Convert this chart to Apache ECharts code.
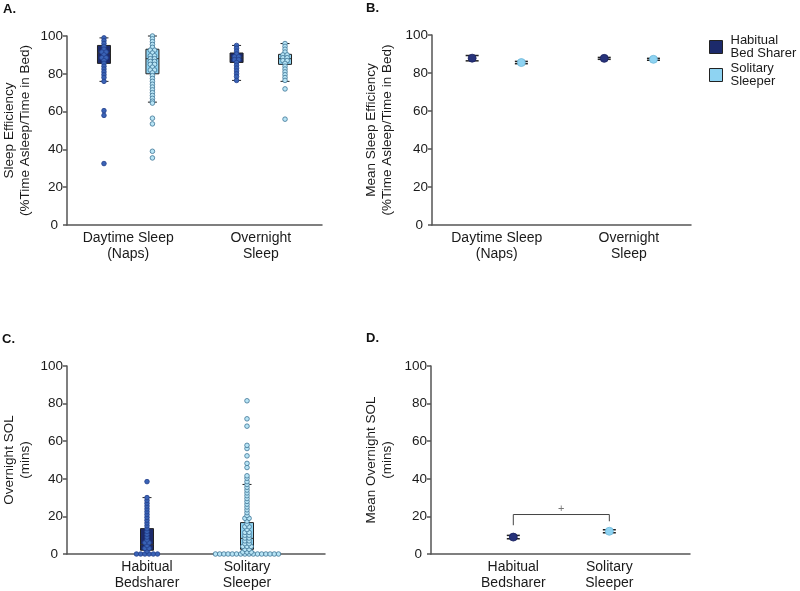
<!DOCTYPE html>
<html><head><meta charset="utf-8">
<script src="https://cdn.jsdelivr.net/npm/echarts@6/dist/echarts.min.js"></script>
<style>html,body{margin:0;padding:0;background:#fff}#c{width:800px;height:591px}</style>
</head><body><div id="c"></div>
<script>
// ---------------- DATA ----------------
const GROUPS = ['Habitual Bed Sharer', 'Solitary Sleeper'];
const GROUP_LEGEND_LABELS = ['Habitual\nBed Sharer', 'Solitary\nSleeper'];
const EFF_CATEGORIES = ['Daytime Sleep\n(Naps)', 'Overnight\nSleep'];
const SOL_CATEGORIES = ['Habitual\nBedsharer', 'Solitary\nSleeper'];

// Panel A: individual sleep efficiency values (%)
const effBedDay = [99, 97.5, 96, 94.5, 93, 91.5, 91.5, 90, 88.5, 88.5, 87, 85.5, 84, 82.5, 81, 79.5, 78, 76, 60.5, 58, 32.5];
const effSolDay = [100, 98.5, 97, 95.5, 94, 92.5, 92.5, 91, 89.5, 89.5, 88, 88, 86.5, 86.5, 85, 85, 83.5, 82, 82, 80.5, 79, 77.5, 76, 74.5, 73, 71.5, 70, 68.5, 67, 65.5, 64.5, 56.5, 53.5, 39, 35.5];
const effBedNight = [95, 93.5, 92, 90.5, 89, 89, 87.5, 87.5, 86, 84.5, 83, 81.5, 80, 78.5, 76.5];
const effSolNight = [96, 94.5, 93, 91.5, 90, 90, 88.5, 88.5, 87, 87, 85.5, 84, 82.5, 81, 79.5, 78, 76.5, 72, 56];
// box stats: [lower whisker, Q1, median, Q3, upper whisker]
const boxEffBed = [[76, 85.5, 91, 95, 99], [76.5, 86, 88.5, 91, 95]];
const boxEffSol = [[65, 80, 88, 93, 100], [76, 85, 88, 90.3, 96]];

// Panel B: mean sleep efficiency and SEM
const meanEffBed = [87.8, 87.7];
const semEffBed = [1.4, 0.5];
const meanEffSol = [85.5, 87.2];
const semEffSol = [0.6, 0.5];

// Panel C: overnight SOL (mins)
const solBed = [0, 0, 0, 0, 0, 0, 1.5, 3, 3, 4.5, 6, 6, 7.5, 9, 10.5, 12, 13.5, 15, 16.5, 18, 19.5, 21, 22.5, 24, 25.5, 27, 28.5, 30, 38.5];
const solSol = [0, 0, 0, 0, 0, 0, 0, 0, 0, 0, 0, 0, 0, 0, 0, 0, 1, 1, 1, 2.5, 2.5, 4, 4, 4, 5.5, 5.5, 7, 7, 8.5, 8.5, 10, 10, 11.5, 11.5, 13, 14.5, 14.5, 16, 17.5, 19, 19, 20.5, 22, 23.5, 25, 26.5, 28, 29.5, 31, 32.5, 34, 35.5, 37, 38.5, 40.3, 41.6, 46, 48.2, 52.2, 56.1, 57.8, 68, 71.9, 81.5];
const boxSol = [[0, 2, 5, 13.5, 30], [0, 2.5, 8.3, 16.7, 37]];

// Panel D: mean overnight SOL and SEM
const meanSol = [9.0, 12.1];
const semSol = [0.9, 0.8];
const bracketD = [21, 15.3, 17.4]; // top, left end, right end
const bracketMark = '+';

const Y_MIN = 0, Y_MAX = 100, Y_STEP = 20;

// ---------------- LAYOUT / STYLE ----------------
const grids = [
  {left: 67, top: 36, width: 255, height: 189},
  {left: 432, top: 35, width: 259, height: 190},
  {left: 67, top: 366, width: 258, height: 190},
  {left: 431, top: 366, width: 259, height: 190}
];
const xRanges = [[0, 2], [0, 2], [0.2, 2.78], [0.143, 2.84]];
const catCenters = [[0.48, 1.52], [0.5, 1.52], [1, 2], [1, 2]];
const GOFF = 0.19;

const C = {
  bedBox: '#1c2a6b', solBox: '#8ed3f2',
  bedDot: '#3a63b6', bedDotEdge: '#223f8c',
  solDot: '#b8e5f6', solDotEdge: '#3d7394',
  bedMean: '#27337a', solMean: '#8ed3f2',
  axis: '#555', text: '#1a1a1a', edge: '#222'
};
const FONT = 'Liberation Sans, Arial, sans-serif';

// layout only: equal values are laid out as a centred horizontal row
function swarm(values) {
  const step = 4.2;
  const counts = {}, seen = {};
  values.forEach(v => { counts[v] = (counts[v] || 0) + 1; });
  return values.map(v => {
    const i = seen[v] = (seen[v] === undefined ? 0 : seen[v] + 1);
    return (i - (counts[v] - 1) / 2) * step;
  });
}

function dotSeries(name, gi, x, values, fill, stroke) {
  const offs = swarm(values);
  return {
    type: 'custom', name, xAxisIndex: gi, yAxisIndex: gi, z: 5, clip: false,
    itemStyle: {color: fill},
    data: values.map((v, i) => [x, v, offs[i]]),
    renderItem: (params, api) => {
      const p = api.coord([api.value(0), api.value(1)]);
      return {type: 'circle', shape: {cx: p[0] + api.value(2), cy: p[1], r: 2.3},
        style: {fill, stroke, lineWidth: 0.8}};
    }
  };
}

function boxSeries(name, gi, xs, stats, fill) {
  return {
    type: 'custom', name, xAxisIndex: gi, yAxisIndex: gi, z: 3, clip: false,
    itemStyle: {color: fill},
    data: stats.map((s, i) => [xs[i]].concat(s)),
    renderItem: (params, api) => {
      const x = api.value(0);
      const pLow = api.coord([x, api.value(1)]), pQ1 = api.coord([x, api.value(2)]);
      const pMed = api.coord([x, api.value(3)]), pQ3 = api.coord([x, api.value(4)]);
      const pHigh = api.coord([x, api.value(5)]);
      const cx = pLow[0], hw = 6.5, cw = 4.5;
      const ls = {stroke: C.edge, lineWidth: 1};
      return {type: 'group', children: [
        {type: 'line', shape: {x1: cx, y1: pLow[1], x2: cx, y2: pQ1[1]}, style: ls},
        {type: 'line', shape: {x1: cx, y1: pQ3[1], x2: cx, y2: pHigh[1]}, style: ls},
        {type: 'line', shape: {x1: cx - cw, y1: pLow[1], x2: cx + cw, y2: pLow[1]}, style: ls},
        {type: 'line', shape: {x1: cx - cw, y1: pHigh[1], x2: cx + cw, y2: pHigh[1]}, style: ls},
        {type: 'rect', shape: {x: cx - hw, y: pQ3[1], width: hw * 2, height: pQ1[1] - pQ3[1]},
          style: {fill, stroke: C.edge, lineWidth: 1}},
        {type: 'line', shape: {x1: cx - hw, y1: pMed[1], x2: cx + hw, y2: pMed[1]}, style: {stroke: '#333', lineWidth: 1}}
      ]};
    }
  };
}

function meanSeries(name, gi, xs, means, sems, fill) {
  return {
    type: 'custom', name, xAxisIndex: gi, yAxisIndex: gi, z: 4, clip: false,
    itemStyle: {color: fill},
    data: means.map((m, i) => [xs[i], m, sems[i]]),
    renderItem: (params, api) => {
      const x = api.value(0), m = api.value(1), s = api.value(2);
      const pm = api.coord([x, m]), ph = api.coord([x, m + s]), pl = api.coord([x, m - s]);
      const cw = 6.5, ls = {stroke: '#222', lineWidth: 1.5};
      return {type: 'group', children: [
        {type: 'line', shape: {x1: pm[0], y1: ph[1], x2: pm[0], y2: pl[1]}, style: ls},
        {type: 'line', shape: {x1: pm[0] - cw, y1: ph[1], x2: pm[0] + cw, y2: ph[1]}, style: ls},
        {type: 'line', shape: {x1: pm[0] - cw, y1: pl[1], x2: pm[0] + cw, y2: pl[1]}, style: ls},
        {type: 'circle', shape: {cx: pm[0], cy: pm[1], r: 4}, style: {fill, stroke: fill === C.bedMean ? '#1a2260' : '#6fb8d8', lineWidth: 0.8}}
      ]};
    }
  };
}

function bracketSeries(gi, xs, br, mark) {
  return {
    type: 'custom', xAxisIndex: gi, yAxisIndex: gi, z: 2, clip: false, silent: true,
    data: [[xs[0], xs[1], br[0], br[1], br[2]]],
    renderItem: (params, api) => {
      const a = api.coord([api.value(0), api.value(3)]);
      const b = api.coord([api.value(0), api.value(2)]);
      const c = api.coord([api.value(1), api.value(2)]);
      const d = api.coord([api.value(1), api.value(4)]);
      return {type: 'group', children: [
        {type: 'polyline', shape: {points: [a, b, c, d]}, style: {stroke: '#444', lineWidth: 1, fill: null}},
        {type: 'text', style: {text: mark, x: (b[0] + c[0]) / 2, y: b[1] - 6, align: 'center', verticalAlign: 'middle',
          fontSize: 11, fill: '#777', fontFamily: FONT}}
      ]};
    }
  };
}

function xAxisCfg(gi, labels) {
  const ticks = catCenters[gi];
  return {
    type: 'value', gridIndex: gi, min: xRanges[gi][0], max: xRanges[gi][1],
    axisLine: {show: true, onZero: false, lineStyle: {color: C.axis, width: 1.5}},
    axisTick: {show: false}, splitLine: {show: false},
    axisLabel: {
      customValues: ticks, fontSize: 14, color: C.text, lineHeight: 16, margin: 5, fontFamily: FONT,
      formatter: v => { const i = ticks.findIndex(t => Math.abs(t - v) < 1e-6); return i >= 0 ? labels[i] : ''; }
    }
  };
}

function yAxisCfg(gi, name, gap) {
  return {
    type: 'value', gridIndex: gi, min: Y_MIN, max: Y_MAX, interval: Y_STEP,
    name, nameLocation: 'middle', nameRotate: 90, nameGap: gap,
    nameTextStyle: {fontSize: 13.5, color: C.text, lineHeight: 16, fontFamily: FONT},
    axisLine: {show: true, lineStyle: {color: C.axis, width: 1.5}},
    axisTick: {show: true, length: 4, lineStyle: {color: C.axis, width: 1.5}},
    splitLine: {show: false},
    axisLabel: {fontSize: 13.5, color: C.text, margin: 4, fontFamily: FONT,
      formatter: v => v === 0 ? '{z|0}' : String(v),
      rich: {z: {fontSize: 13.5, color: C.text, fontFamily: FONT, padding: [0, 5, 0, 0]}}}
  };
}

const ax = catCenters;
const option = {
  animation: false,
  backgroundColor: '#fff',
  textStyle: {fontFamily: FONT},
  title: [
    {text: 'A.', left: 3, top: 3},
    {text: 'B.', left: 366, top: 2},
    {text: 'C.', left: 2, top: 333},
    {text: 'D.', left: 366, top: 332}
  ].map(t => Object.assign(t, {padding: 0, textStyle: {fontSize: 13, fontWeight: 'bold', color: '#111', fontFamily: FONT}})),
  legend: {
    orient: 'vertical', left: 709, top: 34, padding: 0, itemWidth: 13, itemHeight: 13, itemGap: 2,
    selectedMode: false,
    textStyle: {fontSize: 13, lineHeight: 13, color: C.text, fontFamily: FONT, padding: [0, 0, 0, 3]},
    formatter: n => GROUP_LEGEND_LABELS[GROUPS.indexOf(n)],
    data: [
      {name: GROUPS[0], icon: 'rect', itemStyle: {color: C.bedBox, borderColor: C.edge, borderWidth: 1}},
      {name: GROUPS[1], icon: 'rect', itemStyle: {color: C.solBox, borderColor: C.edge, borderWidth: 1}}
    ]
  },
  grid: grids.map(g => Object.assign({containLabel: false}, g)),
  xAxis: [
    xAxisCfg(0, EFF_CATEGORIES), xAxisCfg(1, EFF_CATEGORIES),
    xAxisCfg(2, SOL_CATEGORIES), xAxisCfg(3, SOL_CATEGORIES)
  ],
  yAxis: [
    yAxisCfg(0, 'Sleep Efficiency\n(%Time Asleep/Time in Bed)', 34),
    yAxisCfg(1, 'Mean Sleep Efficiency\n(%Time Asleep/Time in Bed)', 37),
    yAxisCfg(2, 'Overnight SOL\n(mins)', 34),
    yAxisCfg(3, 'Mean Overnight SOL\n(mins)', 36)
  ],
  series: [
    // Panel A
    boxSeries(GROUPS[0], 0, [ax[0][0] - GOFF, ax[0][1] - GOFF], boxEffBed, C.bedBox),
    boxSeries(GROUPS[1], 0, [ax[0][0] + GOFF, ax[0][1] + GOFF], boxEffSol, C.solBox),
    dotSeries(GROUPS[0], 0, ax[0][0] - GOFF, effBedDay, C.bedDot, C.bedDotEdge),
    dotSeries(GROUPS[1], 0, ax[0][0] + GOFF, effSolDay, C.solDot, C.solDotEdge),
    dotSeries(GROUPS[0], 0, ax[0][1] - GOFF, effBedNight, C.bedDot, C.bedDotEdge),
    dotSeries(GROUPS[1], 0, ax[0][1] + GOFF, effSolNight, C.solDot, C.solDotEdge),
    // Panel B
    meanSeries(GROUPS[0], 1, [ax[1][0] - GOFF, ax[1][1] - GOFF], meanEffBed, semEffBed, C.bedMean),
    meanSeries(GROUPS[1], 1, [ax[1][0] + GOFF, ax[1][1] + GOFF], meanEffSol, semEffSol, C.solMean),
    // Panel C
    boxSeries(GROUPS[0], 2, [ax[2][0]], [boxSol[0]], C.bedBox),
    boxSeries(GROUPS[1], 2, [ax[2][1]], [boxSol[1]], C.solBox),
    dotSeries(GROUPS[0], 2, ax[2][0], solBed, C.bedDot, C.bedDotEdge),
    dotSeries(GROUPS[1], 2, ax[2][1], solSol, C.solDot, C.solDotEdge),
    // Panel D
    bracketSeries(3, ax[3], bracketD, bracketMark),
    meanSeries(GROUPS[0], 3, [ax[3][0]], [meanSol[0]], [semSol[0]], C.bedMean),
    meanSeries(GROUPS[1], 3, [ax[3][1]], [meanSol[1]], [semSol[1]], C.solMean)
  ]
};

const chart = echarts.init(document.getElementById('c'), null, {renderer: 'canvas'});
chart.setOption(option);
</script>
</body></html>
